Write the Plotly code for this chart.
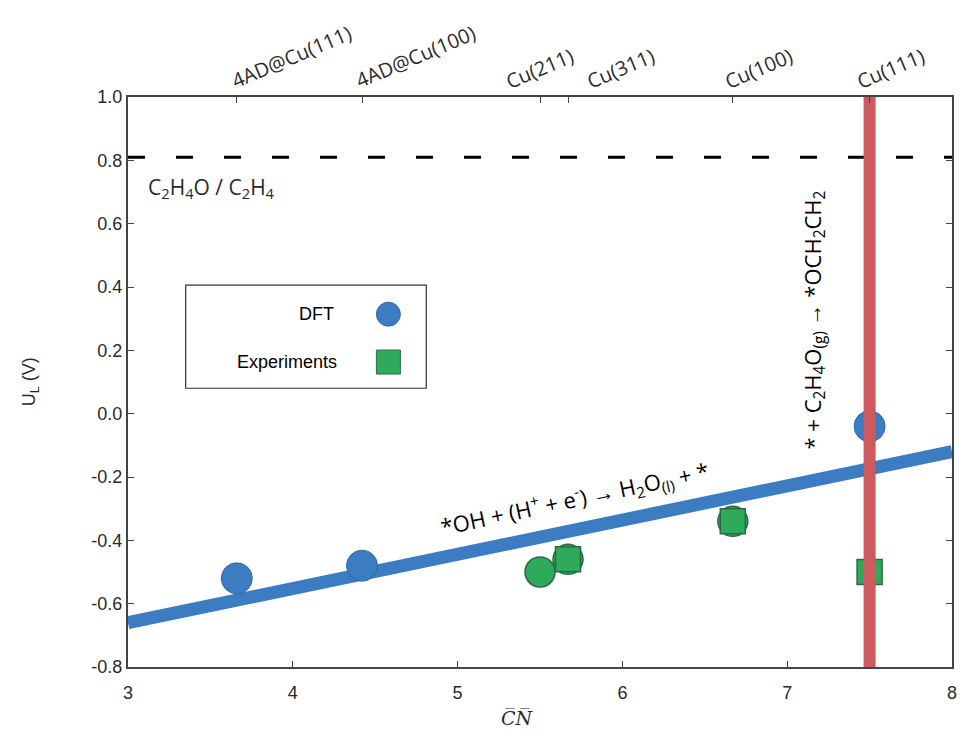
import plotly.graph_objects as go

# Surface coordination numbers and facet labels
facet_cn = [3.66, 4.42, 5.5, 5.67, 6.67, 7.5]
facet_labels = ["4AD@Cu(111)", "4AD@Cu(100)", "Cu(211)", "Cu(311)", "Cu(100)", "Cu(111)"]
# horizontal nudge of each facet label (in CN units) so neighbours do not collide
facet_label_shift = [-0.07, -0.08, -0.25, 0.07, -0.09, -0.12]

# DFT limiting potentials (blue circles)
dft_cn = [3.66, 4.42, 7.5]
dft_ul = [-0.52, -0.48, -0.04]

# DFT values that coincide with the experimental ones (drawn green)
dft_exp_cn = [5.5, 5.67, 6.67]
dft_exp_ul = [-0.50, -0.46, -0.34]

# Experimental limiting potentials (green squares)
exp_cn = [5.67, 6.67, 7.5]
exp_ul = [-0.46, -0.34, -0.50]

# Linear scaling for *OH + (H+ + e-) -> H2O + *
fit_cn = [3.0, 8.0]
fit_ul = [-0.66, -0.12]

# Equilibrium potential of C2H4O / C2H4
eq_cn = [3.0, 8.0]
eq_ul = [0.81, 0.81]

# Cu(111) line
cu111_cn = [7.5, 7.5]
cu111_ul = [-0.8, 1.0]

# Axis ticks
x_ticks = [3, 4, 5, 6, 7, 8]
y_ticks = [1.0, 0.8, 0.6, 0.4, 0.2, 0.0, -0.2, -0.4, -0.6, -0.8]
y_ticktext = [f"{v:.1f}" for v in y_ticks]

BLUE = "#3b7cc2"
GREEN = "#2fa95a"
RED = "#cc5a5f"
AX = "#444444"
TXT = "#2a2a2a"

fig = go.Figure()

fig.add_trace(go.Scatter(x=eq_cn, y=eq_ul, mode="lines",
                         line=dict(color="black", width=3, dash="17px,31px"),
                         showlegend=False, hoverinfo="skip"))
fig.add_trace(go.Scatter(x=fit_cn, y=fit_ul, mode="lines",
                         line=dict(color=BLUE, width=13),
                         showlegend=False, hoverinfo="skip"))
fig.add_trace(go.Scatter(x=cu111_cn, y=cu111_ul, mode="lines", xaxis="x2",
                         line=dict(color=RED, width=12),
                         showlegend=False, hoverinfo="skip"))
fig.add_trace(go.Scatter(x=dft_cn, y=dft_ul, mode="markers", name="DFT",
                         marker=dict(symbol="circle", size=31, color=BLUE,
                                     line=dict(color="#2f6aa8", width=1)),
                         showlegend=False))
fig.add_trace(go.Scatter(x=dft_exp_cn, y=dft_exp_ul, mode="markers",
                         marker=dict(symbol="circle", size=30, color=GREEN,
                                     line=dict(color="#2b6a48", width=1.5)),
                         showlegend=False, hoverinfo="skip"))
fig.add_trace(go.Scatter(x=exp_cn, y=exp_ul, mode="markers", name="Experiments",
                         marker=dict(symbol="square", size=25, color=GREEN,
                                     line=dict(color="#2b6a48", width=1.5)),
                         showlegend=False))

annotations = [
    dict(text="C<sub>2</sub>H<sub>4</sub>O / C<sub>2</sub>H<sub>4</sub>",
         x=3.11, y=0.713, xref="x", yref="y", xanchor="left", yanchor="middle",
         showarrow=False, font=dict(family="Open Sans", size=21, color=TXT)),
    dict(text="*OH + (H<sup>+</sup> + e<sup>-</sup>) \u2192 H<sub>2</sub>O<sub>(l)</sub> + *",
         x=5.71, y=-0.27, xref="x", yref="y", textangle=-12,
         showarrow=False, font=dict(family="Open Sans", size=22, color="black")),
    dict(text="* + C<sub>2</sub>H<sub>4</sub>O<sub>(g)</sub> \u2192 *OCH<sub>2</sub>CH<sub>2</sub>",
         x=7.16, y=0.296, xref="x", yref="y", textangle=-90,
         showarrow=False, font=dict(family="Open Sans", size=22, color="black")),
    dict(text="U<sub>L</sub> (V)", x=-0.135, y=0.5, xref="paper", yref="paper",
         textangle=-90, showarrow=False,
         font=dict(family="Liberation Sans", size=18, color=TXT)),
    dict(text="<i>C\u0305N\u0305</i>", x=0.473, y=-0.09, xref="paper", yref="paper",
         yanchor="middle", showarrow=False,
         font=dict(family="DejaVu Serif", size=19, color=TXT)),
    # legend entries
    dict(text="DFT", x=0.253, y=0.619, xref="paper", yref="paper",
         xanchor="right", yanchor="middle", showarrow=False,
         font=dict(family="Liberation Sans", size=18, color="black")),
    dict(text="Experiments", x=0.256, y=0.535, xref="paper", yref="paper",
         xanchor="right", yanchor="middle", showarrow=False,
         font=dict(family="Liberation Sans", size=18, color="black")),
]

# Slanted facet labels along the top axis
for cn, lab, dx in zip(facet_cn, facet_labels, facet_label_shift):
    annotations.append(dict(text=lab, x=cn + dx, y=1.0, xref="x", yref="paper",
                            xanchor="left", yanchor="bottom", textangle=-23,
                            showarrow=False,
                            font=dict(family="Open Sans", size=20, color=TXT)))

shapes = [
    dict(type="rect", xref="paper", yref="paper",
         x0=0.070, x1=0.362, y0=0.489, y1=0.670,
         line=dict(color="#333333", width=1.2), fillcolor="white", layer="below"),
    dict(type="circle", xref="paper", yref="paper", xsizemode="pixel",
         ysizemode="pixel", xanchor=0.316, yanchor=0.619,
         x0=-12, x1=12, y0=-12, y1=12,
         fillcolor=BLUE, line=dict(color="#2f6aa8", width=1)),
    dict(type="rect", xref="paper", yref="paper", xsizemode="pixel",
         ysizemode="pixel", xanchor=0.316, yanchor=0.535,
         x0=-12, x1=12, y0=-12, y1=12,
         fillcolor=GREEN, line=dict(color="#2b6a48", width=1)),
]

fig.update_layout(
    width=968, height=738,
    margin=dict(l=128, r=11, t=97, b=71),
    paper_bgcolor="white", plot_bgcolor="white",
    font=dict(family="Liberation Sans", size=18, color=TXT),
    annotations=annotations, shapes=shapes,
    xaxis=dict(range=[3, 8], tickvals=x_ticks, ticks="inside",
               ticklen=6, tickcolor=AX, showline=True, linecolor=AX, linewidth=2,
               mirror=True, showgrid=False, zeroline=False, ticklabelstandoff=8,
               tickfont=dict(family="Liberation Sans", size=18, color=TXT)),
    xaxis2=dict(range=[3, 8], overlaying="x", side="top", tickvals=facet_cn,
                showticklabels=False, ticks="inside", ticklen=6,
                tickcolor=AX, showgrid=False, zeroline=False, showline=False),
    yaxis=dict(range=[-0.8, 1.0], tickvals=y_ticks, ticktext=y_ticktext,
               ticks="inside", ticklen=6, tickcolor=AX, showline=True,
               linecolor=AX, linewidth=2, mirror="ticks", showgrid=False,
               zeroline=False,
               tickfont=dict(family="Liberation Sans", size=18, color=TXT)),
)

fig.write_html("out.html")
